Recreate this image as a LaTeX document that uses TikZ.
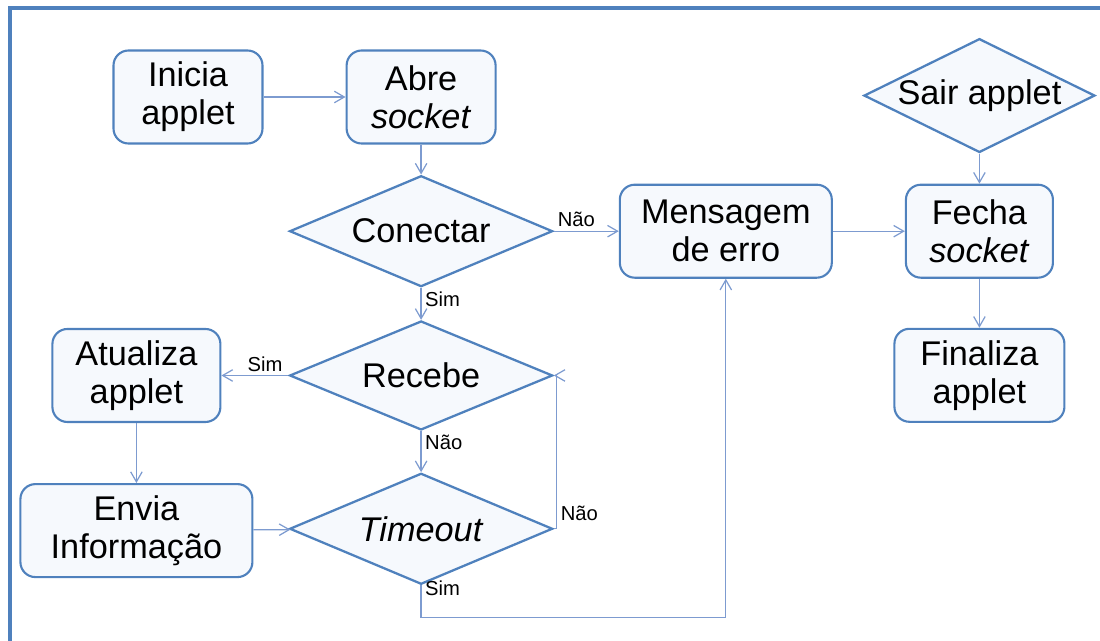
\documentclass[tikz,border=0pt]{standalone}
\usepackage{fontspec}
\setmainfont{Liberation Sans}
\usetikzlibrary{positioning}
\usetikzlibrary{shapes.geometric}
\usetikzlibrary{arrows.meta}

\definecolor{boxline}{RGB}{79,129,189}
\definecolor{boxfill}{RGB}{246,249,253}
\definecolor{linkline}{RGB}{125,155,208}

\tikzset{
  procbox/.style={rectangle, rounded corners=0.3cm, draw=boxline, line width=1.2pt, fill=boxfill,
    minimum height=1.86cm, align=center, font=\fontsize{19.5}{21.5}\selectfont},
  choice/.style={diamond, draw=boxline, line width=1.3pt, fill=boxfill, inner sep=0pt,
    shape aspect=2.3, minimum width=5.26cm, minimum height=2.22cm, align=center,
    font=\fontsize{19.5}{21.5}\selectfont},
  link/.style={draw=linkline, line width=0.7pt, -{Straight Barb[length=2mm, width=2.3mm]}},
  answer/.style={font=\fontsize{11.5}{13}\selectfont, inner sep=2pt}
}

\begin{document}
\begin{tikzpicture}

    \useasboundingbox (0,0) rectangle (22,-12.82);

    % Frame
    \draw[boxline, line width=2.3pt] (0.2,-12.82) -- (0.2,-0.16) -- (22,-0.16);

    % Nodes
    \node[procbox, minimum width=2.98cm] (inicia) at (3.76,-1.94) {Inicia\\applet};
    \node[procbox, minimum width=2.98cm, right=1.64cm of inicia] (abre) {Abre\\\textit{socket}};
    \node[choice, below=0.6cm of abre] (conectar) {Conectar};
    \node[choice, minimum height=2.18cm, below=0.64cm of conectar] (recebe) {Recebe};
    \node[choice, below=0.82cm of recebe] (timeout) {\textit{Timeout}};
    \node[procbox, minimum width=3.36cm, left=1.34cm of recebe] (atualiza) {Atualiza\\applet};
    \node[procbox, minimum width=4.64cm, below=1.2cm of atualiza] (envia) {Envia\\Informação};
    \node[procbox, minimum width=4.24cm, right=1.3cm of conectar] (mensagem) {Mensagem\\de erro};
    \node[procbox, minimum width=2.94cm, right=1.44cm of mensagem] (fecha) {Fecha\\\textit{socket}};
    \node[choice, shape aspect=2, minimum width=4.62cm, minimum height=2.26cm, above=0.6cm of fecha] (sair) {Sair applet};
    \node[procbox, minimum width=3.4cm, below=0.98cm of fecha] (finaliza) {Finaliza\\applet};

    % Links
    \draw[link] (inicia) -- (abre);
    \draw[link] (abre) -- (conectar);
    \draw[link] (conectar) -- node[answer, pos=0, above right] {Não} (mensagem);
    \draw[link] (conectar) -- node[answer, pos=0, below right] {Sim} (recebe);
    \draw[link] (recebe) -- node[answer, pos=0.35, above] {Sim} (atualiza);
    \draw[link] (atualiza) -- (envia);
    \draw[link] (envia) -- (timeout);
    \draw[link] (recebe) -- node[answer, pos=0, below right] {Não} (timeout);
    \draw[link] (timeout.east) -- ++(0.06,0) |- node[answer, pos=0.05, right] {Não} (recebe.east);
    \draw[link] (timeout.south) -- node[answer, pos=0.1, right] {Sim} ++(0,-0.64) -| (mensagem.south);
    \draw[link] (mensagem) -- (fecha);
    \draw[link] (sair) -- (fecha);
    \draw[link] (fecha) -- (finaliza);

\end{tikzpicture}
\end{document}
